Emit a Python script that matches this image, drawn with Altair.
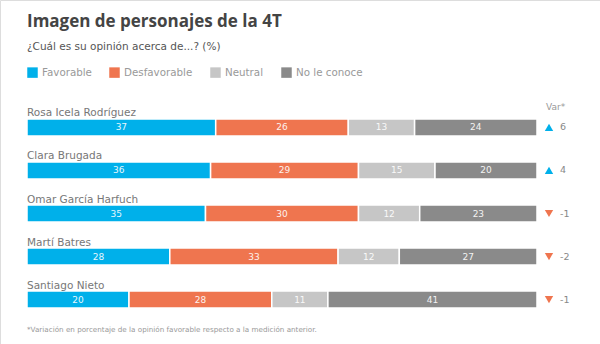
import altair as alt
import pandas as pd

names = ["Rosa Icela Rodríguez", "Clara Brugada", "Omar García Harfuch", "Martí Batres", "Santiago Nieto"]
categories = ["Favorable", "Desfavorable", "Neutral", "No le conoce"]
favorable = [37, 36, 35, 28, 20]
desfavorable = [26, 29, 30, 33, 28]
neutral = [13, 15, 12, 12, 11]
no_conoce = [24, 20, 23, 27, 41]
variation = [6, 4, -1, -2, -1]
colors = ["#00b0ea", "#ef754f", "#c6c6c6", "#8a8a8a"]

title_text = "Imagen de personajes de la 4T"
subtitle_text = "¿Cuál es su opinión acerca de...? (%)"
footnote_text = "*Variación en porcentaje de la opinión favorable respecto a la medición anterior."

FONT = "DejaVu Sans"
TFONT = "Open Sans"

rows = []
for i, n in enumerate(names):
    for j, (cat, vals) in enumerate(zip(categories, [favorable, desfavorable, neutral, no_conoce])):
        rows.append({"name": n, "cat": cat, "ord": j, "value": vals[i]})
df = pd.DataFrame(rows)

var_df = pd.DataFrame({
    "name": names,
    "var": variation,
    "label": [str(v) for v in variation],
    "dir": ["up" if v > 0 else "down" for v in variation],
})

W, H = 600, 344
xscale = alt.Scale(domain=[0, 100], range=[27, 537])
yscale = alt.Scale(domain=names, range=[119, 308], paddingInner=0.605, paddingOuter=0)
yenc = alt.Y("name:N", scale=yscale, axis=None)

base = alt.Chart(df).transform_stack(
    stack="value", groupby=["name"], as_=["x0", "x1"], sort=[alt.SortField("ord")]
).transform_calculate(mid="(datum.x0 + datum.x1) / 2")

bars = base.mark_bar(stroke="white", strokeWidth=1.5, opacity=1).encode(
    x=alt.X("x0:Q", scale=xscale, axis=None),
    x2="x1:Q",
    y=yenc,
    color=alt.Color(
        "cat:N",
        scale=alt.Scale(domain=categories, range=colors),
        legend=alt.Legend(
            title=None, orient="none", legendX=27, legendY=67, direction="horizontal",
            symbolType="square", symbolSize=110, symbolStrokeWidth=0, symbolOpacity=1,
            labelFont=FONT, labelFontSize=10.3, labelColor="#999999",
            columnPadding=17, symbolOffset=0, labelOffset=4,
        ),
    ),
)

seg_text = base.mark_text(font=FONT, fontSize=9, color="white", opacity=0.9).encode(
    x=alt.X("mid:Q", scale=xscale, axis=None),
    y=yenc,
    text="value:Q",
)

name_text = alt.Chart(var_df).mark_text(
    font=FONT, fontSize=10.5, color="#777777", align="left", baseline="bottom", dy=-9
).encode(x=alt.value(27), y=yenc, text="name:N")

tri = alt.Chart(var_df).mark_point(filled=True, size=70, opacity=1).encode(
    x=alt.value(549),
    y=yenc,
    shape=alt.Shape("dir:N", scale=alt.Scale(domain=["up", "down"], range=["triangle-up", "triangle-down"]), legend=None),
    fill=alt.Fill("dir:N", scale=alt.Scale(domain=["up", "down"], range=["#00b0ea", "#ef754f"]), legend=None),
)

var_text = alt.Chart(var_df).mark_text(
    font=FONT, fontSize=9.5, color="#888888", align="left"
).encode(x=alt.value(560), y=yenc, text="label:N")

single = pd.DataFrame({"t": [title_text], "s": [subtitle_text], "f": [footnote_text], "v": ["Var*"]})
title = alt.Chart(single).mark_text(
    font=TFONT, fontSize=17, fontWeight="bold", color="#444444", align="left", baseline="alphabetic"
).encode(x=alt.value(27), y=alt.value(27), text="t:N")
subtitle = alt.Chart(single).mark_text(
    font=FONT, fontSize=10.5, color="#555555", align="left", baseline="alphabetic"
).encode(x=alt.value(27), y=alt.value(50), text="s:N")
foot = alt.Chart(single).mark_text(
    font=FONT, fontSize=7.2, color="#999999", align="left", baseline="alphabetic"
).encode(x=alt.value(27), y=alt.value(332), text="f:N")
varhead = alt.Chart(single).mark_text(
    font=FONT, fontSize=9, color="#999999", align="left", baseline="alphabetic"
).encode(x=alt.value(546), y=alt.value(110), text="v:N")

chart = alt.layer(bars, seg_text, name_text, tri, var_text, title, subtitle, foot, varhead).properties(
    width=W, height=H, autosize=alt.AutoSizeParams(type="none"), padding=0
).configure_view(stroke=None).configure(background="white")

chart.save("out.html", embed_options={"renderer": "svg", "actions": False})
